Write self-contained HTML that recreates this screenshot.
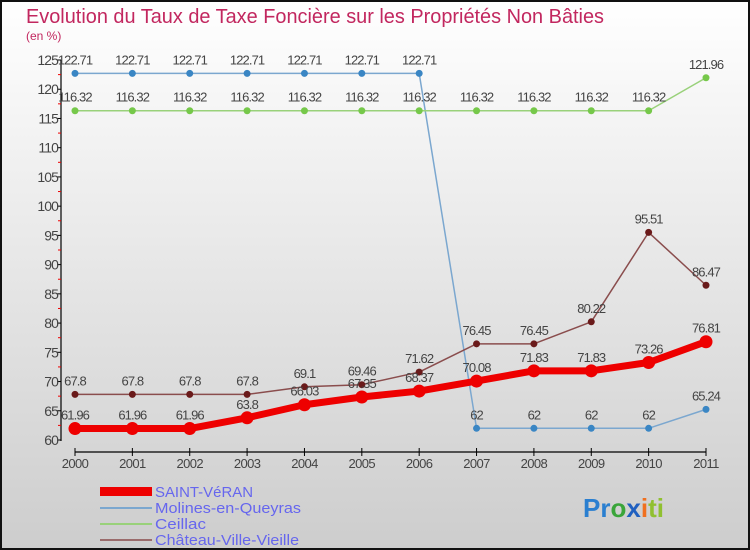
<!DOCTYPE html>
<html><head><meta charset="utf-8"><style>
html,body{margin:0;padding:0}
body{width:750px;height:550px;overflow:hidden;font-family:"Liberation Sans",sans-serif}
svg{display:block}
text{font-family:"Liberation Sans",sans-serif}
</style></head><body>
<svg id="chart" width="750" height="550" xmlns="http://www.w3.org/2000/svg">
<defs><linearGradient id="bg" x1="0" y1="0" x2="0" y2="1"><stop offset="0" stop-color="#ffffff"/><stop offset="1" stop-color="#cdcdcd"/></linearGradient></defs>
<rect x="1" y="1" width="748" height="548" fill="url(#bg)" stroke="#111" stroke-width="2"/>
<text x="26" y="23" font-size="20" fill="#c2275f" textLength="578" lengthAdjust="spacingAndGlyphs">Evolution du Taux de Taxe Foncière sur les Propriétés Non Bâties</text>
<text x="26" y="40" font-size="12" fill="#c2275f">(en %)</text>
<g id="axes"></g>
<g id="series"></g>
<g id="legend">
<rect x="100" y="487" width="52" height="9" fill="#ee0000"/>
<text x="155" y="497" font-size="15" fill="#6666ee" textLength="98" lengthAdjust="spacingAndGlyphs">SAINT-VéRAN</text>
<line x1="100" y1="508" x2="152" y2="508" stroke="#7ba7cf" stroke-width="2"/>
<text x="155" y="513" font-size="15" fill="#6666ee" textLength="146" lengthAdjust="spacingAndGlyphs">Molines-en-Queyras</text>
<line x1="100" y1="524" x2="152" y2="524" stroke="#99d17a" stroke-width="2"/>
<text x="155" y="529" font-size="15" fill="#6666ee" textLength="51" lengthAdjust="spacingAndGlyphs">Ceillac</text>
<line x1="100" y1="540" x2="152" y2="540" stroke="#9a6b6b" stroke-width="2"/>
<text x="155" y="545" font-size="15" fill="#6666ee" textLength="144" lengthAdjust="spacingAndGlyphs">Château-Ville-Vieille</text>
</g>
<g font-size="26" font-weight="bold">
<text x="583" y="517"><tspan fill="#2a7fd0">Pr</tspan><tspan fill="#3aa53a">o</tspan><tspan fill="#2060c0">x</tspan><tspan fill="#f07020">i</tspan><tspan fill="#90c030">ti</tspan></text>
</g>
</svg>
<script>
const years=[2000,2001,2002,2003,2004,2005,2006,2007,2008,2009,2010,2011];
const yTicks=[60,65,70,75,80,85,90,95,100,105,110,115,120,125];
const saintVeran=[61.96,61.96,61.96,63.8,66.03,67.35,68.37,70.08,71.83,71.83,73.26,76.81];
const molines=[122.71,122.71,122.71,122.71,122.71,122.71,122.71,62,62,62,62,65.24];
const ceillac=[116.32,116.32,116.32,116.32,116.32,116.32,116.32,116.32,116.32,116.32,116.32,121.96];
const chateau=[67.8,67.8,67.8,67.8,69.1,69.46,71.62,76.45,76.45,80.22,95.51,86.47];

const NS="http://www.w3.org/2000/svg";
const x=i=>75+i*(706-75)/(years.length-1);
const y=v=>440-(v-60)*(380/65);
function mk(tag,attrs,parent){const e=document.createElementNS(NS,tag);for(const k in attrs)e.setAttribute(k,attrs[k]);parent.appendChild(e);return e;}
const axes=document.getElementById('axes');
const ax=mk('line',{x1:61,y1:60,x2:61,y2:441,stroke:'#000','stroke-width':1.2},axes);


yTicks.forEach(t=>{
  const l=mk('line',{x1:57,y1:y(t),x2:61,y2:y(t),stroke:'#000'},axes);
  
  
  if(t<125){const m=mk('line',{x1:58,y1:y(t+2.5),x2:61,y2:y(t+2.5),stroke:'#e00'},axes);
  
  }
  const tx=mk('text',{x:58,y:y(t)+5,'font-size':14,fill:'#444','text-anchor':'end','letter-spacing':'-0.9'},axes);
  tx.textContent=t;
  
  
});
const xa=mk('line',{x1:75,y1:452,x2:706,y2:452,stroke:'#000','stroke-width':1.2},axes);


years.forEach((yr,i)=>{
  const l=mk('line',{x1:x(i),y1:448,x2:x(i),y2:456,stroke:'#000'},axes);
  
  
  const tx=mk('text',{x:x(i),y:468,'font-size':13,fill:'#444','text-anchor':'middle','letter-spacing':'-0.6'},axes);
  tx.textContent=yr;
  
  
});
const sg=document.getElementById('series');
function draw(vals,name,color,dot,w,r){
  const g=mk('g',{},sg);
  
  
  const p=mk('polyline',{points:vals.map((v,i)=>x(i)+','+y(v)).join(' '),fill:'none',stroke:color,'stroke-width':w,'stroke-linejoin':'round'},g);
  
  
  vals.forEach((v,i)=>{
    const c=mk('circle',{cx:x(i),cy:y(v),r:r,fill:dot},g);
    
    
    const t=mk('text',{x:x(i),y:y(v)-9,'font-size':13,fill:'#444','text-anchor':'middle','letter-spacing':'-0.9'},g);
    t.textContent=v;
    
    
  });
}
draw(molines,'molines','#7ba7cf','#3a86c4',1.5,3.5);
draw(ceillac,'ceillac','#99d17a','#76c84a',1.5,3.5);
draw(chateau,'chateau','#8a4d4d','#6a1a1a',1.5,3.5);
draw(saintVeran,'saint-veran','#ee0000','#ee0000',7,6.5);
</script>
</body></html>
